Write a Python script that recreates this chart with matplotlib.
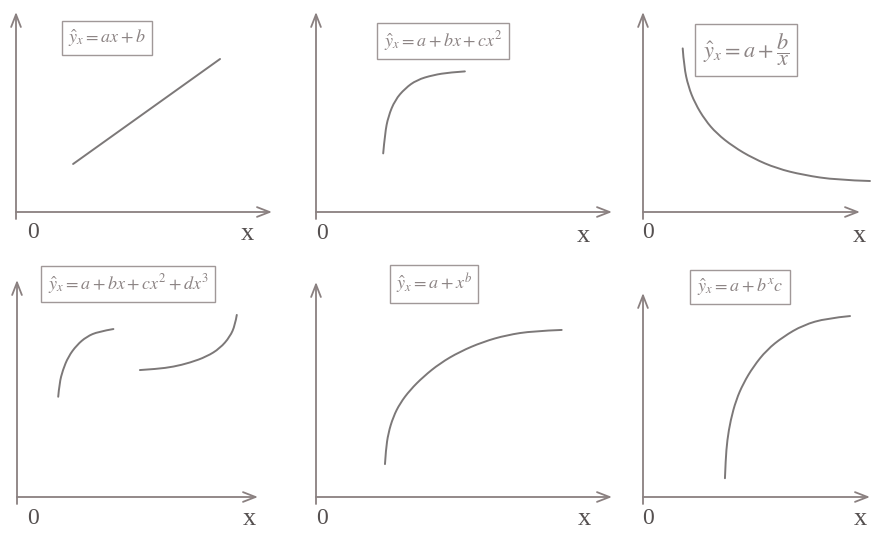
import matplotlib
matplotlib.use("Agg")
import matplotlib.pyplot as plt
from matplotlib.path import Path
from matplotlib.patches import PathPatch

plt.rcParams['mathtext.fontset'] = 'stix'
plt.rcParams['font.family'] = ['Liberation Serif', 'DejaVu Serif']

FW, FH = 872, 533
AX_COL = '#8a8080'
LN_COL = '#7c7878'
TX_COL = '#8c8484'

# Panel frames in pixels: origin x, origin y, x-arrow tip, y-arrow tip
frames = [
    (16, 212, 272, 12),
    (316, 212, 612, 12),
    (643, 212, 860, 12),
    (17, 497, 258, 280),
    (316, 497, 612, 282),
    (643, 497, 870, 293),
]
x_label_pos = [(247, 234), (583, 236), (859, 236), (249, 519), (584, 519), (860, 519)]
zero_label_pos = [(33, 232), (322, 234), (648, 232), (33, 519), (322, 519), (648, 519)]

formulas = [
    r'$\hat{y}_x = ax + b$',
    r'$\hat{y}_x = a + bx + cx^2$',
    r'$\hat{y}_x = a + \dfrac{b}{x}$',
    r'$\hat{y}_x = a + bx + cx^2 + dx^3$',
    r'$\hat{y}_x = a + x^b$',
    r'$\hat{y}_x = a + b^x c$',
]
formula_pos = [(107, 38), (443, 41), (746, 50), (128, 284), (434, 284), (740, 287)]
formula_size = [13, 13, 16, 13, 13, 13]

# curve data (units: 0..10 along each axis)
p1_x = [2.23, 7.97]
p1_y = [2.40, 7.65]

p2_x = [2.27, 2.33, 2.44, 2.67, 3.01, 3.40, 3.96, 4.53, 5.03]
p2_y = [2.93, 3.93, 4.77, 5.60, 6.18, 6.60, 6.85, 6.98, 7.03]

p3_x = [1.83, 1.89, 2.09, 2.40, 2.86, 3.39, 4.16, 5.08, 6.16, 7.39, 8.93, 10.46]
p3_y = [8.18, 7.27, 6.27, 5.43, 4.60, 3.93, 3.27, 2.68, 2.18, 1.85, 1.60, 1.55]

p4a_x = [1.71, 1.76, 1.90, 2.13, 2.48, 2.89, 3.37, 4.00]
p4a_y = [4.62, 5.24, 5.85, 6.47, 7.00, 7.39, 7.62, 7.74]
p4b_x = [5.10, 5.80, 6.49, 7.18, 7.87, 8.42, 8.84, 9.05, 9.12]
p4b_y = [5.85, 5.90, 6.00, 6.19, 6.47, 6.85, 7.39, 7.93, 8.39]

p5_x = [2.33, 2.36, 2.44, 2.61, 2.84, 3.18, 3.63, 4.19, 4.86, 5.65, 6.44, 7.34, 8.30]
p5_y = [1.53, 2.19, 2.96, 3.73, 4.36, 4.98, 5.60, 6.22, 6.76, 7.22, 7.53, 7.72, 7.77]

p6_x = [3.61, 3.64, 3.71, 3.86, 4.10, 4.42, 4.86, 5.45, 6.18, 7.06, 8.09, 9.12]
p6_y = [0.92, 1.81, 2.79, 3.77, 4.75, 5.57, 6.39, 7.21, 7.86, 8.43, 8.76, 8.87]

curves = [
    [(p1_x, p1_y)],
    [(p2_x, p2_y)],
    [(p3_x, p3_y)],
    [(p4a_x, p4a_y), (p4b_x, p4b_y)],
    [(p5_x, p5_y)],
    [(p6_x, p6_y)],
]


def smooth_path(xs, ys):
    """Quadratic-Bezier smoothing through the read points (midpoint scheme)."""
    pts = list(zip(xs, ys))
    if len(pts) < 3:
        return Path(pts, [Path.MOVETO] + [Path.LINETO] * (len(pts) - 1))
    verts = [pts[0]]
    codes = [Path.MOVETO]
    for k in range(1, len(pts) - 1):
        mid = ((pts[k][0] + pts[k + 1][0]) / 2, (pts[k][1] + pts[k + 1][1]) / 2)
        if k == len(pts) - 2:
            mid = pts[-1]
        verts += [pts[k], mid]
        codes += [Path.CURVE3, Path.CURVE3]
    return Path(verts, codes)


fig = plt.figure(figsize=(FW / 100, FH / 100), dpi=100)
fig.patch.set_facecolor('white')

for i, (x0, y0, xt, yt) in enumerate(frames):
    W = xt - x0
    H = y0 - yt
    ax = fig.add_axes([x0 / FW, 1 - y0 / FH, W / FW, H / FH])
    ax.set_xlim(0, 10)
    ax.set_ylim(0, 10)
    ax.axis('off')
    arrow = dict(arrowstyle='->,head_length=0.9,head_width=0.35', color=AX_COL,
                 lw=1.3, shrinkA=0, shrinkB=0)
    ax.annotate('', xy=(1, 0), xytext=(0, 0), xycoords='axes fraction',
                arrowprops=arrow, annotation_clip=False)
    ax.annotate('', xy=(0, 1), xytext=(0, -7 / H), xycoords='axes fraction',
                arrowprops=arrow, annotation_clip=False)
    for cx, cy in curves[i]:
        patch = PathPatch(smooth_path(cx, cy), fill=False, edgecolor=LN_COL,
                          lw=1.4, clip_on=False, capstyle='round')
        ax.add_patch(patch)
    zx, zy = zero_label_pos[i]
    fig.text(zx / FW, 1 - zy / FH, '0', fontsize=17,
             color='#555050', ha='center', va='center')
    lx, ly = x_label_pos[i]
    fig.text(lx / FW, 1 - ly / FH, 'x', fontsize=19,
             color='#555050', ha='center', va='center')

for (fx, fy), f, fs in zip(formula_pos, formulas, formula_size):
    fig.text(fx / FW, 1 - fy / FH, f, fontsize=fs, color=TX_COL,
             ha='center', va='center',
             bbox=dict(boxstyle='square,pad=0.35', fc='white', ec='#a09898', lw=1.0))

fig.savefig('out.png', dpi=100, facecolor='white')
